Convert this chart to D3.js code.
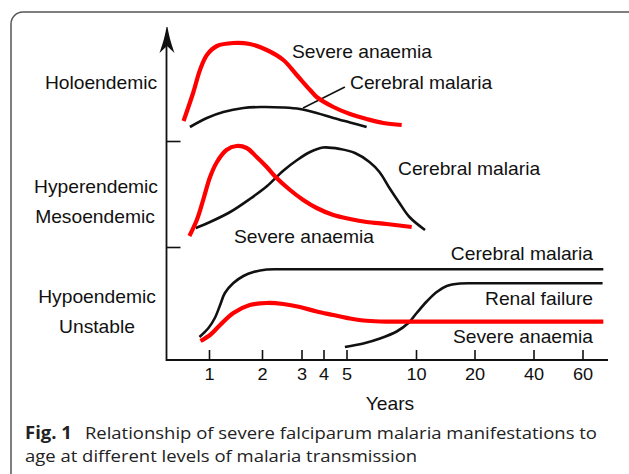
<!DOCTYPE html>
<html>
<head>
<meta charset="utf-8">
<script src="https://cdn.jsdelivr.net/npm/d3@7"></script>
<style>
  body { margin: 0; background: #fff; }
  svg { display: block; }
  .lbl { font-family: "Liberation Sans", Arial, sans-serif; fill: #111; }
  .caption { font-family: "Open Sans", "Noto Sans", sans-serif; fill: #222; }
</style>
</head>
<body>
<script>
// Age ticks on the (stretched) x axis
var ageTicks = [1, 2, 3, 4, 5, 10, 20, 40, 60];

// Curves: [age in years, relative height]
var holoAnaemia = [[0.52, 239], [0.70, 267], [0.83, 290], [0.96, 305], [1.15, 314], [1.46, 317],
    [1.77, 316], [2.12, 310], [2.54, 300], [2.88, 285], [3.39, 270], [3.69, 263], [4.43, 253],
    [5.25, 246], [6.45, 241], [7.65, 237], [8.97, 235]];
var holoCerebral = [[0.64, 233], [0.96, 242], [1.27, 248], [1.65, 252], [1.98, 253], [2.54, 252.5],
    [2.96, 251], [3.69, 247], [4.43, 242], [5.25, 237.5], [6.45, 233]];
var holoPointer = [[3.07, 252], [4.93, 273]];

var hyperAnaemia = [[0.63, 124], [0.77, 140], [0.89, 160], [1.02, 183], [1.15, 198], [1.33, 210],
    [1.52, 214], [1.71, 212], [1.90, 203], [2.12, 193], [2.37, 182], [2.71, 170], [3.08, 160],
    [3.69, 152], [4.43, 145], [5.25, 141], [6.45, 138], [7.89, 136], [9.69, 133]];
var hyperCerebral = [[0.75, 132], [1.02, 138], [1.40, 148], [1.77, 161], [2.13, 174], [2.53, 189],
    [2.89, 200], [3.39, 208], [3.98, 212.5], [4.72, 211], [5.61, 207], [6.65, 198], [7.37, 188],
    [8.09, 172], [8.81, 157], [9.53, 143], [11.54, 130]];

var hypoCerebral = [[0.82, 23], [0.99, 32], [1.11, 42], [1.21, 55], [1.30, 67], [1.46, 77],
    [1.65, 84], [1.84, 88], [2.12, 90.5], [2.6, 90.7], [5, 90.7], [20, 90.7], [68.5, 90.7]];
var hypoAnaemia = [[0.84, 19], [1.02, 25], [1.21, 35], [1.46, 47], [1.77, 55], [2.12, 57],
    [2.54, 56], [2.96, 53], [3.69, 48.5], [4.43, 45], [5.25, 41.5], [6.21, 39.5], [7.41, 38.5],
    [9, 38.3], [20, 38.3], [68.5, 38.3]];
var hypoRenal = [[4.93, 13], [6.21, 16.5], [7.41, 21.5], [8.61, 28.5], [9.45, 37], [10.12, 47],
    [11.83, 58.5], [13.54, 68], [15.25, 74], [17.52, 76.5], [22, 76.7], [68.2, 76.7]];

// Band boundaries on the y axis
var levelBreaks = [113, 219];

var W = 629, H = 474;
var svg = d3.select("body").append("svg").attr("width", W).attr("height", H);

// Frame of the figure box
svg.append("rect")
    .attr("x", 11).attr("y", 12)
    .attr("width", 700).attr("height", 600)
    .attr("rx", 12)
    .attr("fill", "none")
    .attr("stroke", "#555")
    .attr("stroke-width", 1.5);

// Scales
var x = d3.scaleLinear()
    .domain(ageTicks)
    .range([209, 262, 301.5, 323.5, 346.5, 416, 474.5, 533.5, 582.5]);
var y = d3.scaleLinear().domain([0, 330]).range([360, 30]);
var axisX0 = 166.5, axisX1 = 608, axisTop = 27;

// X axis
var xAxis = d3.axisBottom(x)
    .tickValues(ageTicks)
    .tickSize(-10)
    .tickSizeOuter(0)
    .tickPadding(8.5);
var gx = svg.append("g")
    .attr("transform", "translate(0," + y(0) + ")")
    .call(xAxis);
gx.select(".domain").remove();
gx.selectAll(".tick line").attr("stroke", "#111").attr("stroke-width", 1.6);
gx.selectAll(".tick text")
    .attr("class", "lbl")
    .style("font-size", "16.5px")
    .attr("transform", "scale(1.1,1)");
svg.append("line")
    .attr("x1", axisX0).attr("x2", axisX1)
    .attr("y1", y(0)).attr("y2", y(0))
    .attr("stroke", "#111").attr("stroke-width", 1.8);

// Y axis with arrow
var yAxis = d3.axisRight(y).tickValues(levelBreaks).tickSize(14).tickFormat("");
var gy = svg.append("g").attr("transform", "translate(" + axisX0 + ",0)").call(yAxis);
gy.select(".domain").remove();
gy.selectAll(".tick line").attr("stroke", "#111").attr("stroke-width", 1.6);
svg.append("line")
    .attr("x1", axisX0).attr("x2", axisX0)
    .attr("y1", y(0) + 0.9).attr("y2", axisTop + 8)
    .attr("stroke", "#111").attr("stroke-width", 1.8);
svg.append("path")
    .attr("d", "M" + (axisX0 + 1) + "," + axisTop +
        " C" + (axisX0 + 3) + "," + (axisTop + 12) + " " + (axisX0 + 6) + "," + (axisTop + 20) + " " + (axisX0 + 8) + "," + (axisTop + 26) +
        " L" + (axisX0 + 0.5) + "," + (axisTop + 19) +
        " L" + (axisX0 - 7) + "," + (axisTop + 26) +
        " C" + (axisX0 - 5) + "," + (axisTop + 20) + " " + (axisX0 - 2) + "," + (axisTop + 12) + " " + (axisX0 + 0) + "," + axisTop + " Z")
    .attr("fill", "#111");

// Curves
var line = d3.line()
    .x(function(d) { return x(d[0]); })
    .y(function(d) { return y(d[1]); })
    .curve(d3.curveCatmullRom.alpha(0.5));

function drawCurve(data, color, width) {
    svg.append("path")
        .datum(data)
        .attr("d", line)
        .attr("fill", "none")
        .attr("stroke", color)
        .attr("stroke-width", width)
        .attr("stroke-linejoin", "round");
}

drawCurve(holoCerebral, "#111", 2.6);
drawCurve(holoPointer, "#111", 1.5);
drawCurve(holoAnaemia, "#ff0000", 4.2);
drawCurve(hyperCerebral, "#111", 2.6);
drawCurve(hyperAnaemia, "#ff0000", 4.2);
drawCurve(hypoCerebral, "#111", 2.6);
drawCurve(hypoRenal, "#111", 2.6);
drawCurve(hypoAnaemia, "#ff0000", 4.2);

// Text labels
function label(txt, lx, ly, anchor) {
    svg.append("text")
        .attr("class", "lbl")
        .attr("transform", "translate(" + lx + "," + ly + ") scale(1.1,1)")
        .attr("text-anchor", anchor)
        .style("font-size", "17.5px")
        .text(txt);
}

label("Holoendemic", 101, 89, "middle");
label("Hyperendemic", 96, 193, "middle");
label("Mesoendemic", 95, 223, "middle");
label("Hypoendemic", 97, 303, "middle");
label("Unstable", 97, 333, "middle");

label("Severe anaemia", 292, 58, "start");
label("Cerebral malaria", 350, 89, "start");
label("Cerebral malaria", 398, 175, "start");
label("Severe anaemia", 234, 243, "start");
label("Cerebral malaria", 593, 260, "end");
label("Renal failure", 593, 305, "end");
label("Severe anaemia", 593, 343, "end");
label("Years", 390, 410, "middle");

// Caption
var cap = svg.append("g").attr("class", "caption");
var line1 = cap.append("text").attr("x", 0).attr("y", 439).style("font-size", "17px");
line1.append("tspan").style("font-weight", "bold").text("Fig. 1");
line1.append("tspan").attr("dx", 12).text("Relationship of severe falciparum malaria manifestations to");
cap.append("text").attr("x", 0).attr("y", 462).style("font-size", "17px")
    .text("age at different levels of malaria transmission");

// squeeze caption to the measured width of the first line
var natural = line1.node().getComputedTextLength();
var ratio = 559 / natural;
cap.attr("transform", "translate(25,0) scale(" + ratio + ",1)");
</script>
</body>
</html>
